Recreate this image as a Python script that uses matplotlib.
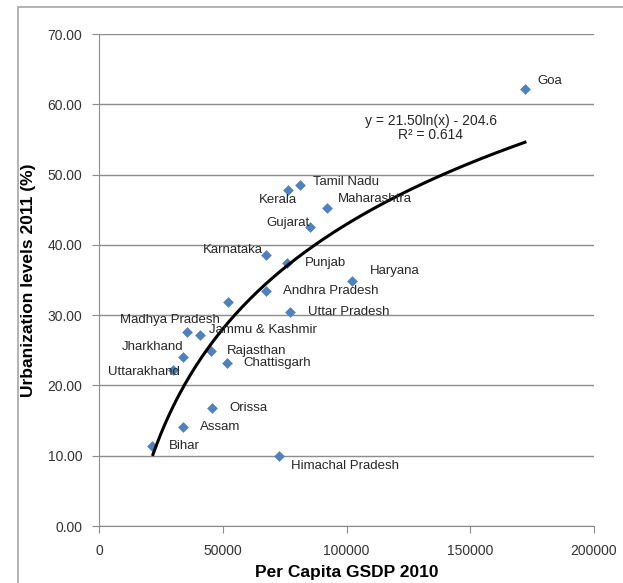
import matplotlib.pyplot as plt
import numpy as np
from matplotlib.patches import Rectangle

plt.rcParams['font.family'] = ['Liberation Sans', 'DejaVu Sans']

states = ['Goa', 'Tamil Nadu', 'Kerala', 'Maharashtra', 'Gujarat', 'Karnataka',
          'Punjab', 'Haryana', 'Andhra Pradesh', '', 'Uttar Pradesh',
          'Madhya Pradesh', 'Jammu & Kashmir', 'Jharkhand', 'Rajasthan',
          'Chattisgarh', 'Uttarakhand', 'Orissa', 'Assam', 'Bihar',
          'Himachal Pradesh']
gsdp = [172100, 81200, 76400, 92100, 85300, 67500,
        76000, 102200, 67500, 52100, 77200,
        35600, 40800, 33900, 45300,
        51700, 29900, 45700, 33900, 21400,
        72700]
urban = [62.2, 48.5, 47.8, 45.2, 42.5, 38.5,
         37.4, 34.9, 33.4, 31.9, 30.4,
         27.6, 27.2, 24.0, 24.9,
         23.2, 22.2, 16.8, 14.1, 11.4,
         10.0]

# trendline as given by the chart label
coef_a, coef_b = 21.50, -204.6

# label placement: (dx, dy) pixels, horizontal alignment
label_pos = {
    'Goa': (12, 8, 'left'), 'Tamil Nadu': (13, 3, 'left'),
    'Kerala': (-10, -10, 'center'), 'Maharashtra': (11, 9, 'left'),
    'Gujarat': (0, 4, 'right'), 'Karnataka': (-3, 5, 'right'),
    'Punjab': (18, 0, 'left'), 'Haryana': (18, 10, 'left'),
    'Andhra Pradesh': (17, 0, 'left'), 'Uttar Pradesh': (18, 0, 'left'),
    'Madhya Pradesh': (-17, 12, 'center'), 'Jammu & Kashmir': (9, 5, 'left'),
    'Jharkhand': (1, 10, 'right'), 'Rajasthan': (16, 0, 'left'),
    'Chattisgarh': (16, 0, 'left'), 'Uttarakhand': (7, -2, 'right'),
    'Orissa': (17, 0, 'left'), 'Assam': (17, 0, 'left'),
    'Bihar': (17, 0, 'left'), 'Himachal Pradesh': (12, -10, 'left'),
}

fig = plt.figure(figsize=(6.23, 5.83), dpi=100)
fig.patches.append(Rectangle((18 / 623, -0.1), 1.2, 1 - 7 / 583 + 0.1,
                             transform=fig.transFigure, fill=False,
                             edgecolor='#a6a6a6', linewidth=1.2))
ax = fig.add_axes([99 / 623, 57 / 583, 495 / 623, 492 / 583])

ax.scatter(gsdp, urban, marker='D', s=30, color='#4f81bd', zorder=3, linewidths=0)

xs = np.linspace(21800, max(gsdp), 200)
ax.plot(xs, coef_a * np.log(xs) + coef_b, color='black', linewidth=2.2, zorder=4)

for name, x, y in zip(states, gsdp, urban):
    if not name:
        continue
    dx, dy, ha = label_pos[name]
    ax.annotate(name, (x, y), xytext=(dx, dy), textcoords='offset pixels',
                ha=ha, va='center', fontsize=9.5, color='#262626', zorder=5)

ax.text(134100, 56.6, 'y = 21.50ln(x) - 204.6\nR² = 0.614', ha='center', va='center',
        fontsize=10, color='#262626', linespacing=1.05, zorder=5)

ax.set_xlim(0, 200000)
ax.set_ylim(0, 70)
ax.set_xticks(np.arange(0, 200001, 50000))
ax.set_yticks(np.arange(0, 71, 10))
ax.set_yticklabels([f'{v:.2f}' for v in np.arange(0, 71, 10)])
ax.grid(axis='y', color='#8c8c8c', linewidth=1)
ax.set_axisbelow(True)
for s in ['top', 'right']:
    ax.spines[s].set_visible(False)
for s in ['left', 'bottom']:
    ax.spines[s].set_color('#8c8c8c')
ax.tick_params(colors='#8c8c8c', labelcolor='#333333', labelsize=10, length=5)
ax.tick_params(axis='x', pad=8)
ax.tick_params(axis='y', pad=7)

ax.set_xlabel('Per Capita GSDP 2010', fontsize=12.5, fontweight='bold', labelpad=5)
ax.set_ylabel('Urbanization levels 2011 (%)', fontsize=12.5, fontweight='bold', labelpad=8)

fig.savefig('out.png', dpi=100)
